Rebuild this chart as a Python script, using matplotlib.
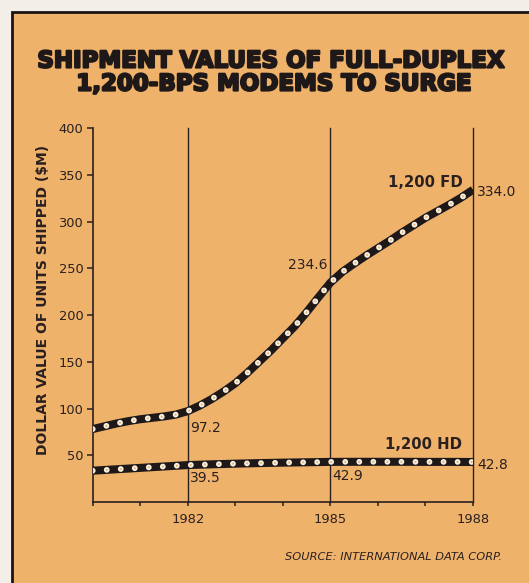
import matplotlib
matplotlib.use("Agg")
import matplotlib.pyplot as plt
import matplotlib.patheffects as pe
from matplotlib.patches import Rectangle

# ---- data ----
fd_years = [1980, 1980.25, 1980.5, 1980.75, 1981, 1981.25, 1981.5, 1981.75,
            1982, 1982.25, 1982.5, 1982.75, 1983, 1983.25, 1983.5, 1983.75,
            1984, 1984.25, 1984.5, 1984.75, 1985, 1985.25, 1985.5, 1985.75,
            1986, 1986.25, 1986.5, 1986.75, 1987, 1987.25, 1987.5, 1987.75,
            1988]
fd_values = [78, 81, 84, 86.5, 88.5, 90, 91.5, 93.5,
             97.2, 103, 110, 118, 127, 138, 150, 162,
             175, 188, 203, 219, 234.6, 246, 255, 263.5,
             271.5, 279.5, 288, 296, 304, 311, 318, 325.5,
             334.0]

hd_years = [1980, 1980.5, 1981, 1981.5, 1982, 1982.5, 1983, 1983.5, 1984,
            1984.5, 1985, 1985.5, 1986, 1986.5, 1987, 1987.5, 1988]
hd_values = [33.5, 35, 36.5, 38, 39.5, 40.3, 41, 41.6, 42.1,
             42.5, 42.9, 43.0, 43.0, 43.0, 42.9, 42.9, 42.8]

label_years = [1982, 1985, 1988]
fd_labels = [97.2, 234.6, 334.0]
hd_labels = [39.5, 42.9, 42.8]

y_ticks = [50, 100, 150, 200, 250, 300, 350, 400]
x_ticks = [1980, 1981, 1982, 1983, 1984, 1985, 1986, 1987, 1988]
x_tick_labels = ["", "", "1982", "", "", "1985", "", "", "1988"]

series_names = ["1,200 FD", "1,200 HD"]
title_lines = ["SHIPMENT VALUES OF FULL-DUPLEX", "1,200-BPS MODEMS TO SURGE"]
y_label = "DOLLAR VALUE OF UNITS SHIPPED ($M)"
source = "SOURCE: INTERNATIONAL DATA CORP."

# ---- style ----
ORANGE = "#efb26b"
INK = "#2a2020"
DARK = "#1e1818"
W, H = 529, 583

plt.rcParams["font.family"] = ["DejaVu Sans"]
plt.rcParams["lines.scale_dashes"] = False

fig = plt.figure(figsize=(W / 100, H / 100), dpi=100)
fig.patch.set_facecolor("#f3efe8")
fig.patches.append(Rectangle((12 / W, -0.05), 1.1, 1 - 12 / H + 0.05,
                             transform=fig.transFigure, facecolor=ORANGE,
                             edgecolor="#1a1414", linewidth=2, zorder=-10))

ax = fig.add_axes([92.7 / W, 1 - 502 / H, (473 - 92.7) / W, (502 - 128) / H])
ax.set_facecolor("none")
ax.set_xlim(1980, 1988)
ax.set_ylim(0, 400)

for s in ["top", "right"]:
    ax.spines[s].set_visible(False)
for s in ["left", "bottom"]:
    ax.spines[s].set_color(INK)
    ax.spines[s].set_linewidth(1.2)

ax.set_yticks(y_ticks)
ax.set_yticklabels([str(v) for v in y_ticks])
ax.set_xticks(x_ticks)
ax.set_xticklabels(x_tick_labels)
ax.tick_params(axis="y", length=4.3, width=1.1, color=INK, pad=2.5,
               labelsize=9.4, labelcolor=INK)
ax.tick_params(axis="x", length=3, width=1.1, color=INK, pad=5,
               labelsize=9.4, labelcolor=INK)

for yr in label_years:
    ax.axvline(yr, color=INK, lw=1.0, zorder=1, clip_on=False)


def chain(x, y):
    ax.plot(x, y, color=DARK, lw=5.8, solid_capstyle="butt", zorder=3,
            solid_joinstyle="round")
    ax.plot(x, y, color="#f7f0e2", lw=4.2, linestyle=(0, (0.01, 10.1)),
            dash_capstyle="round", zorder=4)
    ax.plot(x, y, color="#e9b477", lw=1.6, linestyle=(0, (0.01, 10.1)),
            dash_capstyle="round", zorder=5)


chain(fd_years, fd_values)
chain(hd_years, hd_values)

# value labels
fd_offsets = [((1.5, -12), "left"), ((-2, 13), "right"), ((3, -2), "left")]
hd_offsets = [((1.5, -9), "left"), ((1.5, -10), "left"), ((3, -2.5), "left")]
for yr, v, (off, ha) in zip(label_years, fd_labels, fd_offsets):
    ax.annotate(f"{v:.1f}", (yr, v), xytext=off, textcoords="offset points",
                ha=ha, va="center", fontsize=10, color=INK,
                annotation_clip=False)
for yr, v, (off, ha) in zip(label_years, hd_labels, hd_offsets):
    ax.annotate(f"{v:.1f}", (yr, v), xytext=off, textcoords="offset points",
                ha=ha, va="center", fontsize=10, color=INK,
                annotation_clip=False)

ax.text(1987.79, 342, series_names[0], ha="right", va="center",
        fontsize=10.7, fontweight="bold", color=INK)
ax.text(1987.77, 62, series_names[1], ha="right", va="center",
        fontsize=10.7, fontweight="bold", color=INK)

# title
stroke = [pe.withStroke(linewidth=1.6, foreground=DARK)]
fig.text(271 / W, 1 - 61 / H, title_lines[0], ha="center", va="center",
         fontsize=16.5, fontweight="bold", color=DARK, path_effects=stroke)
fig.text(274 / W, 1 - 84 / H, title_lines[1], ha="center", va="center",
         fontsize=16.5, fontweight="bold", color=DARK, path_effects=stroke)

fig.text(43 / W, 1 - 300 / H, y_label, rotation=90, ha="center", va="center",
         fontsize=10, fontweight="bold", color=INK)

fig.text(502 / W, 1 - 557 / H, source, ha="right", va="center",
         fontsize=8.2, style="italic", color=INK)

fig.savefig("out.png", dpi=100, facecolor=fig.get_facecolor())
